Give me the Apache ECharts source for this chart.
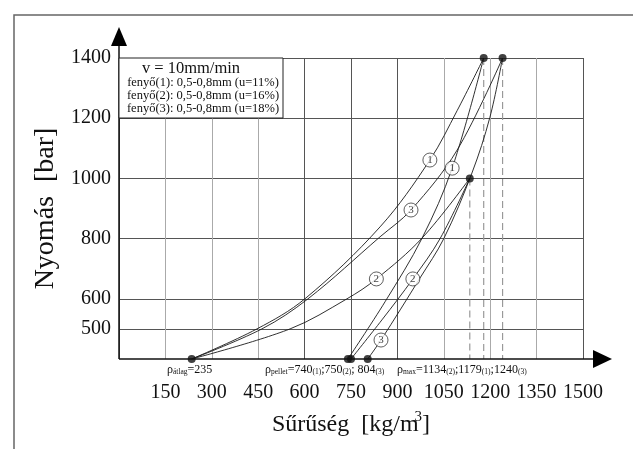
<!DOCTYPE html>
<html>
<head>
<meta charset="utf-8">
<script src="https://cdn.jsdelivr.net/npm/echarts@6/dist/echarts.min.js"></script>
<style>html,body{margin:0;padding:0;background:#fff;}#c{width:633px;height:449px;}</style>
</head>
<body>
<div id="c"></div>
<script>
// ---- data (density kg/m3, pressure bar) ----
const yTickLabels = [500, 600, 800, 1000, 1200, 1400];
const curve1Compaction = [[235,400],[446,500],[601,600],[844,839],[1005,1061],[1093,1225],[1179,1400]];
const curve3Compaction = [[235,400],[462,500],[611,600],[844,806],[944,895],[1093,1094],[1240,1400]];
const curve2Compaction = [[235,400],[553,500],[737,600],[832,666],[980,802],[1134,1000]];
const curve1Pellet = [[740,400],[860,590],[980,802],[1077,1034],[1179,1400]];
const curve2Pellet = [[750,400],[850,530],[950,666],[1038,800],[1134,1000]];
const curve3Pellet = [[804,400],[847,463],[973,669],[1050,800],[1141,1018],[1199,1203],[1240,1400]];
const keyPoints = [[235,400],[740,400],[750,400],[804,400],[1134,1000],[1179,1400],[1240,1400]];
const maxPoints = [[1134,1000],[1179,1400],[1240,1400]];
const curveTags = [[1005,1061,'1'],[1077,1034,'1'],[944,895,'3'],[832,666,'2'],[950,666,'2'],[847,463,'3']];
const legendTitle = 'v = 10mm/min';
const legendLines = ['fenyő(1): 0,5-0,8mm (u=11%)','fenyő(2): 0,5-0,8mm (u=16%)','fenyő(3): 0,5-0,8mm (u=18%)'];

const F = '"Liberation Serif", "DejaVu Serif", serif';
const chart = echarts.init(document.getElementById('c'), null, {renderer: 'canvas'});

const T = 'rgba(0,0,0,0)';
const curveStyle = {color: '#1a1a1a', width: 0.9};
function curve(data) {
  return {type: 'line', data: data, smooth: 0.35, showSymbol: false,
    symbol: 'none', lineStyle: curveStyle, silent: true, z: 3};
}
const series = [
  curve(curve1Compaction), curve(curve3Compaction), curve(curve2Compaction),
  curve(curve1Pellet), curve(curve2Pellet), curve(curve3Pellet)
];
maxPoints.forEach(function (p) {
  series.push({type: 'line', data: [[p[0], p[1]], [p[0], 400]], symbol: 'none',
    lineStyle: {color: '#999', width: 1.2, type: [7, 4]}, z: 2, silent: true});
});
series.push({type: 'scatter', data: keyPoints, symbol: 'circle', symbolSize: 8,
  itemStyle: {color: '#111'}, z: 5, silent: true});
series.push({type: 'scatter', data: curveTags.map(function (t) { return [t[0], t[1], t[2]]; }),
  symbol: 'circle', symbolSize: 14, z: 6, silent: true,
  itemStyle: {color: '#fff', borderColor: '#222', borderWidth: 0.9},
  label: {show: true, position: 'inside', formatter: function (p) { return p.data[2]; },
    fontFamily: F, fontSize: 11, color: '#111'}});

const vColors = ['#555','#aaa','#aaa','#aaa','#555','#555','#555','#aaa','#aaa','#aaa','#555'];
const hColors = [T,'#555','#555',T,'#555',T,'#555',T,'#555',T,'#555'];
const richB = {fontFamily: F, fontSize: 12, fill: '#111', verticalAlign: 'bottom'};
const richS = {fontFamily: F, fontSize: 7.5, fill: '#111', verticalAlign: 'bottom'};

const option = {
  animation: false,
  backgroundColor: '#fff',
  grid: {left: 119, right: 50, top: 58, bottom: 90},
  xAxis: {
    type: 'value', min: 0, max: 1500, interval: 150,
    name: 'Sűrűség  [kg/m{sup|3}]', nameLocation: 'middle', nameGap: 51,
    nameTextStyle: {fontFamily: F, fontSize: 24, color: '#111',
      rich: {sup: {fontFamily: F, fontSize: 15, color: '#111', verticalAlign: 'top', padding: [0, 0, 14, -4]}}},
    axisLine: {show: false}, axisTick: {show: false},
    axisLabel: {fontFamily: F, fontSize: 20, color: '#111', margin: 24,
      formatter: function (v) { return v === 0 ? '' : String(v); }},
    splitLine: {show: true, lineStyle: {color: vColors, width: 1}}
  },
  yAxis: {
    type: 'value', min: 400, max: 1400, interval: 100,
    name: 'Nyomás  [bar]', nameLocation: 'middle', nameGap: 58, nameRotate: 90,
    nameTextStyle: {fontFamily: F, fontSize: 28, color: '#111'},
    axisLine: {show: false}, axisTick: {show: false},
    axisLabel: {fontFamily: F, fontSize: 20, color: '#111', margin: 8,
      formatter: function (v) { return yTickLabels.indexOf(v) >= 0 ? String(v) : ''; }},
    splitLine: {show: true, lineStyle: {color: hColors, width: 1}}
  },
  series: series,
  graphic: [
    {type: 'polyline', shape: {points: [[14, 449], [14, 15], [633, 15]]},
      style: {stroke: '#666', lineWidth: 1.5, fill: null}, z: 10},
    {type: 'line', shape: {x1: 119, y1: 359, x2: 597, y2: 359}, style: {stroke: '#111', lineWidth: 1.5}, z: 10},
    {type: 'polygon', shape: {points: [[593, 350], [612, 359], [593, 368]]}, style: {fill: '#000'}, z: 10},
    {type: 'line', shape: {x1: 119, y1: 359, x2: 119, y2: 44}, style: {stroke: '#111', lineWidth: 1.5}, z: 10},
    {type: 'polygon', shape: {points: [[111, 46], [119, 27], [127, 46]]}, style: {fill: '#000'}, z: 10},
    {type: 'rect', shape: {x: 119, y: 58, width: 164, height: 60},
      style: {fill: '#fff', stroke: '#222', lineWidth: 1}, z: 20},
    {type: 'text', x: 191, y: 69, z: 21,
      style: {text: legendTitle, fontFamily: F, fontSize: 16.5, fill: '#111', align: 'center', verticalAlign: 'middle'}},
    {type: 'text', x: 203, y: 83, z: 21,
      style: {text: legendLines[0], fontFamily: F, fontSize: 12.5, fill: '#111', align: 'center', verticalAlign: 'middle'}},
    {type: 'text', x: 203, y: 96, z: 21,
      style: {text: legendLines[1], fontFamily: F, fontSize: 12.5, fill: '#111', align: 'center', verticalAlign: 'middle'}},
    {type: 'text', x: 203, y: 109, z: 21,
      style: {text: legendLines[2], fontFamily: F, fontSize: 12.5, fill: '#111', align: 'center', verticalAlign: 'middle'}},
    {type: 'text', x: 167, y: 364, z: 21,
      style: {text: '{b|ρ}{s|átlag}{b|=235}', rich: {b: richB, s: richS}}},
    {type: 'text', x: 265, y: 364, z: 21,
      style: {text: '{b|ρ}{s|pellet}{b|=740}{s|(1)}{b|;750}{s|(2)}{b|; 804}{s|(3)}', rich: {b: richB, s: richS}}},
    {type: 'text', x: 397, y: 364, z: 21,
      style: {text: '{b|ρ}{s|max}{b|=1134}{s|(2)}{b|;1179}{s|(1)}{b|;1240}{s|(3)}', rich: {b: richB, s: richS}}}
  ]
};
chart.setOption(option);
</script>
</body>
</html>
